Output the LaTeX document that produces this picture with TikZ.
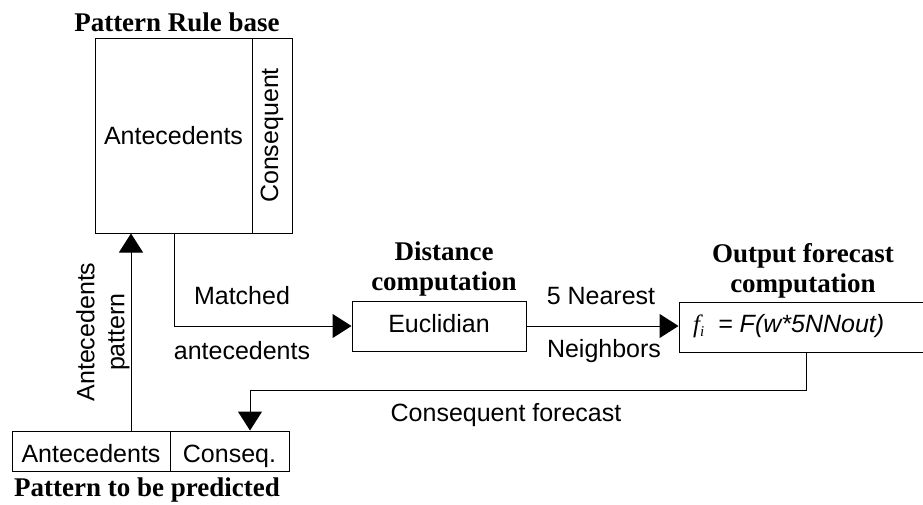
\documentclass[tikz,border=0pt]{standalone}
\usepackage{fontspec}
\setmainfont{Liberation Serif}
\newfontfamily\arialf{Liberation Sans}
\usetikzlibrary{arrows.meta}
\begin{document}
\begin{tikzpicture}[x=1pt,y=-1pt,
  box/.style={draw, line width=1pt, inner sep=0pt, text height=18pt, text depth=5pt, font=\arialf\fontsize{25}{30}\selectfont},
  lbl/.style={inner sep=0pt, font=\arialf\fontsize{25}{30}\selectfont},
  ttl/.style={inner sep=0pt, align=center, font=\rmfamily\bfseries\fontsize{27}{32}\selectfont},
  arr/.style={line width=1pt, -{Triangle[length=19pt,width=24pt]}},
  ln/.style={line width=1pt}]
\useasboundingbox (0,0) rectangle (923,504);
\clip (0,0) rectangle (923,504);
% Pattern rule base
\node[box, text height=20pt, text depth=2pt, minimum width=157pt, minimum height=195pt] (rbA) at (173.5,135.5) {Antecedents};
\node[box, minimum width=40pt, minimum height=195pt] (rbC) at (272,135.5) {};
\node[lbl, rotate=90] (rbCt) at (rbC.center) {Consequent};
\node[ttl] (rbT) at (177,22) {Pattern Rule base};
% Distance computation
\node[box, minimum width=174pt, minimum height=50pt] (euc) at (439,326) {Euclidian};
\node[ttl] (eucT) at (444,269) {Distance\\[-2pt]computation};
% Output forecast
\node[box, minimum width=251pt, minimum height=50pt] (out) at (804.5,327) {};
\node[ttl] (outT) at (803,271) {Output forecast\\[-2pt]computation};
\node[lbl, anchor=west] (form) at (693,326) {{\rmfamily\itshape f{\fontsize{15}{15}\selectfont\raisebox{-4pt}{i}}}\ \ {\itshape = F(w*5NNout)}};
% Pattern to be predicted
\node[box, text height=25pt, text depth=2pt, minimum width=158pt, minimum height=40pt] (pA) at (91,451) {Antecedents};
\node[box, text height=25pt, text depth=2pt, minimum width=119pt, minimum height=40pt] (pC) at (229.5,451) {Conseq.};
\node[ttl] (pT) at (147,490) {Pattern to be predicted};
% coordinates
\coordinate (ap) at (131,0);
\coordinate (mx) at (174,0);
\coordinate (fx) at (806,0);
\coordinate (bend) at (250,390);
% connectors
\draw[arr] (pA.north -| ap) -- (rbA.south -| ap);
\draw[arr] (rbA.south -| mx) |- (euc.west);
\draw[arr] (euc.east) -- (euc.east -| out.west);
\draw[arr] (out.south -| fx) |- (bend) -- (pC.north -| bend);
% labels
\node[lbl, rotate=90, align=center] (apl) at (103,332) {Antecedents\\pattern};
\node[lbl] (m1) at (242,296) {Matched};
\node[lbl] (m2) at (242,351) {antecedents};
\node[lbl] (n1) at (601,296) {5 Nearest};
\node[lbl] (n2) at (604,351) {Neighbors};
\node[lbl] (cf) at (506,415) {Consequent forecast};
\end{tikzpicture}
\end{document}
